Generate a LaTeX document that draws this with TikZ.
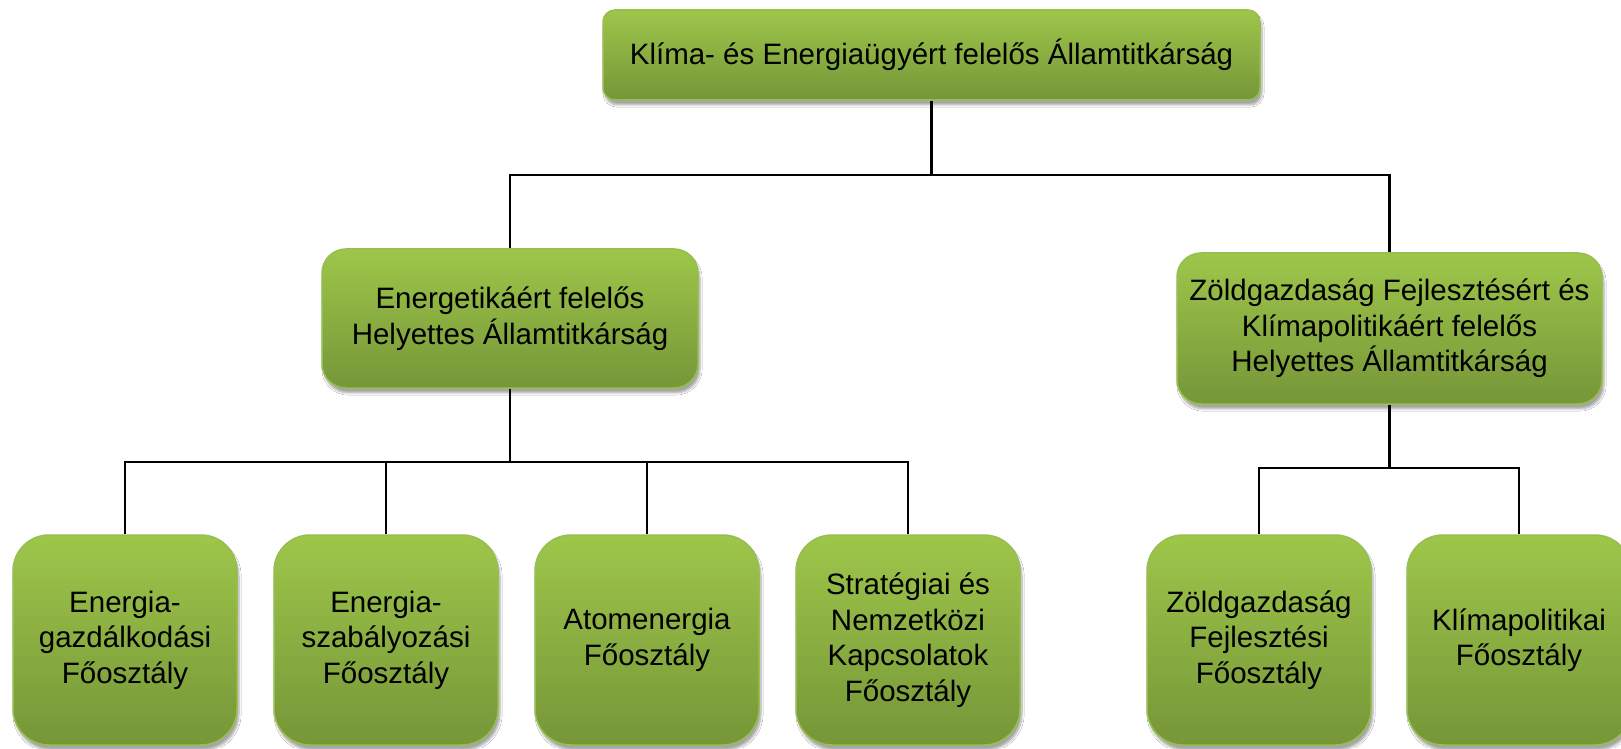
\documentclass[tikz,border=0pt]{standalone}
\usepackage{fontspec}
\setmainfont{Liberation Sans}
\usetikzlibrary{shadows.blur}

\begin{document}
\begin{tikzpicture}[x=1pt,y=1pt,
  unit/.style={draw=borderColor,line width=1.5pt,top color=topColor,bottom color=bottomColor,
    align=center,inner sep=0pt,font=\fontsize{29.5}{35.5}\selectfont,
    blur shadow={shadow xshift=2pt,shadow yshift=-5pt,shadow opacity=35,shadow blur steps=6}},
  headbox/.style={unit,rounded corners=12pt,minimum width=657pt,minimum height=90pt},
  deputybox/.style={unit,rounded corners=24pt},
  deptbox/.style={unit,rounded corners=36pt,minimum width=224pt,minimum height=210pt},
  link/.style={draw=black,line width=2.8pt}]
\definecolor{topColor}{RGB}{158,198,74}
\definecolor{bottomColor}{RGB}{118,150,56}
\definecolor{borderColor}{RGB}{150,190,80}
\path[use as bounding box,fill=white] (0,0) rectangle (1621,748);

\node[headbox] (head) at (931.5,693) {Klíma- és Energiaügyért felelős Államtitkárság};

\node[deputybox,minimum width=376pt,minimum height=139pt] (energy) at (510,429.5)
  {Energetikáért felelős\\Helyettes Államtitkárság};

\node[deputybox,minimum width=425pt,minimum height=151pt] (green) at (1389.5,419.5)
  {Zöldgazdaság Fejlesztésért és\\Klímapolitikáért felelős\\Helyettes Államtitkárság};

\node[deptbox] (egazd) at (125,108) {Energia-\\gazdálkodási\\Főosztály};
\node[deptbox] (eszab) at (386,108) {Energia-\\szabályozási\\Főosztály};
\node[deptbox] (atom) at (647,108) {Atomenergia\\Főosztály};
\node[deptbox] (strat) at (908,108) {Stratégiai és\\Nemzetközi\\Kapcsolatok\\Főosztály};
\node[deptbox] (zold) at (1259,108) {Zöldgazdaság\\Fejlesztési\\Főosztály};
\node[deptbox] (klima) at (1519,108) {Klímapolitikai\\Főosztály};

% tree links
\coordinate (busTop) at (931.5,573);
\coordinate (busEnergy) at (510,286);
\coordinate (busGreen) at (1389.5,280);

\path[link] (head.south) -- (busTop);
\foreach \child in {energy,green}
  \path[link] (busTop) -| (\child.north);

\path[link] (energy.south) -- (busEnergy);
\foreach \child in {egazd,eszab,atom,strat}
  \path[link] (busEnergy) -| (\child.north);

\path[link] (green.south) -- (busGreen);
\foreach \child in {zold,klima}
  \path[link] (busGreen) -| (\child.north);
\end{tikzpicture}
\end{document}
